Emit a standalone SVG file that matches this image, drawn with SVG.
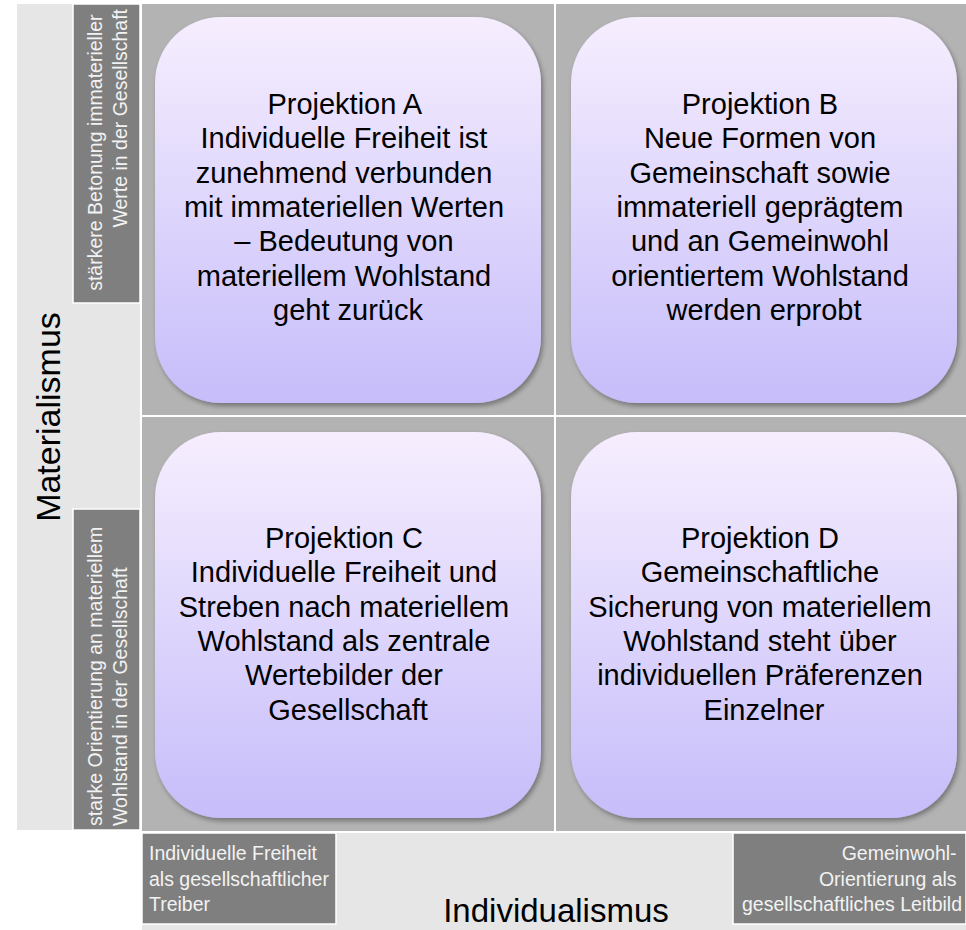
<svg xmlns="http://www.w3.org/2000/svg" width="966" height="930" viewBox="0 0 966 930">
  <defs>
    <linearGradient id="boxFill" x1="0" y1="0" x2="0" y2="1">
      <stop offset="0" stop-color="#f6eefe"/>
      <stop offset="1" stop-color="#c6bdfa"/>
    </linearGradient>
    <filter id="boxShadow" x="-5%" y="-5%" width="112%" height="112%">
      <feDropShadow dx="2" dy="3" stdDeviation="2.5" flood-color="#000" flood-opacity="0.35"/>
    </filter>
  </defs>
  <style>
    .band { fill: #e6e6e6; }
    .grid { fill: #b3b3b3; }
    .divider { fill: #ffffff; }
    .tag { fill: #7f7f7f; stroke: #ffffff; stroke-width: 1.5; }
    .tagText { font-family: "Liberation Sans", Arial, sans-serif; font-size: 19.5px; fill: #f2f2f2; }
    .axis { font-family: "Liberation Sans", Arial, sans-serif; font-size: 34px; fill: #000; }
    .box { fill: url(#boxFill); filter: url(#boxShadow); }
    .boxText { font-family: "Liberation Sans", Arial, sans-serif; font-size: 29px; fill: #000; text-anchor: middle; }
  </style>

  <rect width="966" height="930" fill="#ffffff"/>

  <!-- background bands and quadrant field -->
  <g id="background">
    <rect class="band" x="17" y="4" width="123" height="826"/>
    <rect class="grid" x="142" y="4" width="824" height="827"/>
    <rect class="band" x="142" y="833" width="824" height="97"/>
  </g>

  <!-- quadrant separators -->
  <g id="connectors">
    <rect class="divider" x="554" y="4" width="2" height="827"/>
    <rect class="divider" x="142" y="415" width="824" height="2"/>
  </g>

  <!-- vertical axis -->
  <g id="axis-materialismus">
    <text class="axis" transform="rotate(-90)" x="-417" y="60" text-anchor="middle">Materialismus</text>
  </g>
  <g id="tag-immateriell">
    <rect class="tag" x="73" y="4" width="67" height="299"/>
    <text class="tagText" transform="rotate(-90)" text-anchor="end">
      <tspan x="-9" y="102">stärkere Betonung immaterieller</tspan>
      <tspan x="-9" y="127">Werte in der Gesellschaft</tspan>
    </text>
  </g>
  <g id="tag-materiell">
    <rect class="tag" x="73" y="509" width="67" height="321"/>
    <text class="tagText" transform="rotate(-90)" text-anchor="start">
      <tspan x="-826" y="102">starke Orientierung an materiellem</tspan>
      <tspan x="-826" y="127">Wohlstand in der Gesellschaft</tspan>
    </text>
  </g>

  <!-- horizontal axis -->
  <g id="axis-individualismus">
    <text class="axis" x="556" y="922" text-anchor="middle" style="font-size:33px">Individualismus</text>
  </g>
  <g id="tag-freiheit">
    <rect class="tag" x="142" y="833" width="194" height="91"/>
    <text class="tagText">
      <tspan x="149" y="860">Individuelle Freiheit</tspan>
      <tspan x="149" y="886">als gesellschaftlicher</tspan>
      <tspan x="149" y="911">Treiber</tspan>
    </text>
  </g>
  <g id="tag-gemeinwohl">
    <rect class="tag" x="733" y="833" width="233" height="91"/>
    <text class="tagText" text-anchor="end">
      <tspan x="962" y="860">Gemeinwohl-</tspan>
      <tspan x="962" y="886">Orientierung als</tspan>
      <tspan x="962" y="911">gesellschaftliches Leitbild</tspan>
    </text>
  </g>

  <!-- projection quadrants -->
  <g id="projektion-a">
    <rect class="box" x="155" y="17" width="386" height="386" rx="66" ry="66"/>
    <text class="boxText">
      <tspan x="348" y="114">Projektion A</tspan>
      <tspan x="348" y="148.3">Individuelle Freiheit ist</tspan>
      <tspan x="348" y="182.6">zunehmend verbunden</tspan>
      <tspan x="348" y="216.9">mit immateriellen Werten</tspan>
      <tspan x="348" y="251.2">– Bedeutung von</tspan>
      <tspan x="348" y="285.5">materiellem Wohlstand</tspan>
      <tspan x="348" y="319.8">geht zurück</tspan>
    </text>
  </g>
  <g id="projektion-b">
    <rect class="box" x="571" y="17" width="386" height="386" rx="66" ry="66"/>
    <text class="boxText">
      <tspan x="764" y="114">Projektion B</tspan>
      <tspan x="764" y="148.3">Neue Formen von</tspan>
      <tspan x="764" y="182.6">Gemeinschaft sowie</tspan>
      <tspan x="764" y="216.9">immateriell geprägtem</tspan>
      <tspan x="764" y="251.2">und an Gemeinwohl</tspan>
      <tspan x="764" y="285.5">orientiertem Wohlstand</tspan>
      <tspan x="764" y="319.8">werden erprobt</tspan>
    </text>
  </g>
  <g id="projektion-c">
    <rect class="box" x="155" y="432" width="386" height="386" rx="66" ry="66"/>
    <text class="boxText">
      <tspan x="348" y="548">Projektion C</tspan>
      <tspan x="348" y="582.3">Individuelle Freiheit und</tspan>
      <tspan x="348" y="616.6">Streben nach materiellem</tspan>
      <tspan x="348" y="650.9">Wohlstand als zentrale</tspan>
      <tspan x="348" y="685.2">Wertebilder der</tspan>
      <tspan x="348" y="719.5">Gesellschaft</tspan>
    </text>
  </g>
  <g id="projektion-d">
    <rect class="box" x="571" y="432" width="386" height="386" rx="66" ry="66"/>
    <text class="boxText">
      <tspan x="764" y="548">Projektion D</tspan>
      <tspan x="764" y="582.3">Gemeinschaftliche</tspan>
      <tspan x="764" y="616.6">Sicherung von materiellem</tspan>
      <tspan x="764" y="650.9">Wohlstand steht über</tspan>
      <tspan x="764" y="685.2">individuellen Präferenzen</tspan>
      <tspan x="764" y="719.5">Einzelner</tspan>
    </text>
  </g>
</svg>
